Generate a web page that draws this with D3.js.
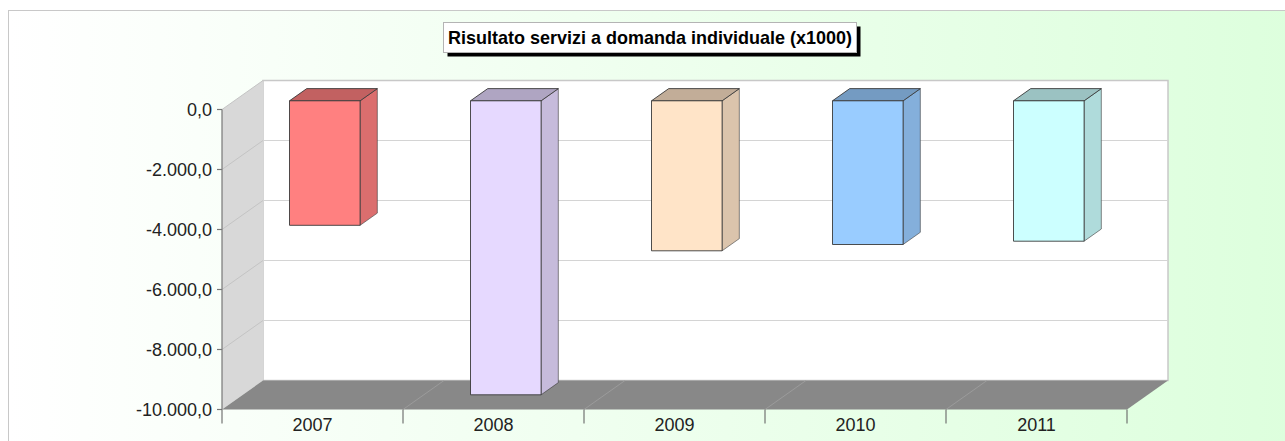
<!DOCTYPE html>
<html><head><meta charset="utf-8">
<script src="https://cdn.jsdelivr.net/npm/d3@7/dist/d3.min.js"></script>
<style>html,body{margin:0;padding:0;background:#fff;overflow:hidden}svg{display:block}</style>
</head><body>
<svg id="c" width="1285" height="441"></svg>
<script>
const title = "Risultato servizi a domanda individuale (x1000)";
const categories = ["2007", "2008", "2009", "2010", "2011"];
const values = [-4150, -9800, -5000, -4790, -4680];
const yTicks = [0, -2000, -4000, -6000, -8000, -10000];
const colors = ["#ff8080", "#e6d9ff", "#ffe4c8", "#99ccff", "#ccffff"];

const svg = d3.select("#c");
const W = 1285, H = 441;
const locale = d3.formatLocale({decimal: ",", thousands: ".", grouping: [3], currency: ["€", ""], minus: "-"});
const fmt = locale.format(",.1f");

const defs = svg.append("defs");
const grad = defs.append("linearGradient").attr("id", "bg").attr("x1", "0").attr("x2", "1").attr("y1", "0").attr("y2", "0");
grad.append("stop").attr("offset", "0").attr("stop-color", "#ffffff");
grad.append("stop").attr("offset", "1").attr("stop-color", "#ddffdd");

svg.append("rect").attr("x", 8.5).attr("y", 10.5).attr("width", W).attr("height", H)
  .attr("fill", "url(#bg)").attr("stroke", "#c8c8c8");

const x0 = 222, x1 = 1127;
const x = d3.scaleBand().domain(categories).range([x0, x1]);
const y = d3.scaleLinear().domain([-10000, 0]).range([409.5, 109.5]);
const DX = 41, DY = -29;
const yMin = y(-10000), yMax = y(0);

const g = svg.append("g");
g.append("rect").attr("x", x0 + DX).attr("y", yMax + DY).attr("width", x1 - x0).attr("height", yMin - yMax)
  .attr("fill", "#ffffff").attr("stroke", "#c8c8c8").attr("stroke-width", 1.5);
g.append("path").attr("d", `M${x0},${yMax}L${x0 + DX},${yMax + DY}L${x0 + DX},${yMin + DY}L${x0},${yMin}Z`)
  .attr("fill", "#d8d8d8");
yTicks.forEach(t => {
  if (t === 0 || t === -10000) return;
  g.append("line").attr("x1", x0 + DX).attr("x2", x1 + DX).attr("y1", y(t) + DY).attr("y2", y(t) + DY)
    .attr("stroke", "#d4d4d4");
  g.append("line").attr("x1", x0).attr("x2", x0 + DX).attr("y1", y(t)).attr("y2", y(t) + DY)
    .attr("stroke", "#c4c4c4");
});
g.append("line").attr("x1", x0).attr("x2", x0 + DX).attr("y1", yMax).attr("y2", yMax + DY).attr("stroke", "#c4c4c4");
g.append("path").attr("d", `M${x0},${yMin}L${x0 + DX},${yMin + DY}L${x1 + DX},${yMin + DY}L${x1},${yMin}Z`)
  .attr("fill", "#888888");
const bounds = categories.map(c => x(c)).concat([x1]);
bounds.slice(1, -1).forEach(b => {
  g.append("line").attr("x1", b).attr("x2", b + DX).attr("y1", yMin).attr("y2", yMin + DY)
    .attr("stroke", "#a0a0a0").attr("stroke-width", 0.8);
});

const z1 = 0.3, z2 = 0.72, bw = 0.39;
categories.forEach((c, i) => {
  const v = values[i];
  const cx = x(c) + x.bandwidth() / 2;
  const w = x.bandwidth() * bw;
  const fx = cx - w / 2 + DX * z1, fy0 = y(0) + DY * z1, fy1 = y(v) + DY * z1;
  const ddx = DX * (z2 - z1), ddy = DY * (z2 - z1);
  const base = d3.color(colors[i]);
  const top = d3.rgb(base.r * 0.76, base.g * 0.76, base.b * 0.76);
  const side = d3.rgb(base.r * 0.86, base.g * 0.86, base.b * 0.86);
  const bar = g.append("g").attr("stroke", "#3a3a3a").attr("stroke-width", 0.9).attr("stroke-linejoin", "round");
  bar.append("path").attr("d", `M${fx + w},${fy0}L${fx + w + ddx},${fy0 + ddy}L${fx + w + ddx},${fy1 + ddy}L${fx + w},${fy1}Z`)
    .attr("fill", side.formatHex()).attr("stroke-width", 0.6);
  bar.append("path").attr("d", `M${fx},${fy0}L${fx + ddx},${fy0 + ddy}L${fx + w + ddx},${fy0 + ddy}L${fx + w},${fy0}Z`)
    .attr("fill", top.formatHex());
  bar.append("rect").attr("x", fx).attr("y", fy0).attr("width", w).attr("height", fy1 - fy0)
    .attr("fill", colors[i]);
});

const ya = svg.append("g").attr("font-family", "Liberation Sans, Arial, sans-serif").attr("font-size", 18).attr("fill", "#222");
ya.append("line").attr("x1", x0).attr("x2", x0).attr("y1", yMax).attr("y2", yMin).attr("stroke", "#777").attr("stroke-width", 1.2);
yTicks.forEach(t => {
  ya.append("line").attr("x1", x0 - 5).attr("x2", x0).attr("y1", y(t)).attr("y2", y(t)).attr("stroke", "#777").attr("stroke-width", 1.2);
  ya.append("text").attr("x", x0 - 10).attr("y", y(t)).attr("dy", "0.36em").attr("text-anchor", "end").text(fmt(t));
});
const xa = svg.append("g").attr("font-family", "Liberation Sans, Arial, sans-serif").attr("font-size", 18).attr("fill", "#222");
bounds.forEach(b => {
  xa.append("line").attr("x1", b).attr("x2", b).attr("y1", yMin).attr("y2", yMin + 14).attr("stroke", "#666").attr("stroke-width", 1.1);
});
categories.forEach(c => {
  xa.append("text").attr("x", x(c) + x.bandwidth() / 2).attr("y", 431).attr("text-anchor", "middle").text(c);
});

const tg = svg.append("g");
tg.append("rect").attr("x", 447.5).attr("y", 26.5).attr("width", 413).attr("height", 30).attr("fill", "#000");
tg.append("rect").attr("x", 443.5).attr("y", 22.5).attr("width", 413).attr("height", 30).attr("fill", "#fff").attr("stroke", "#b4b4b4");
const tt = tg.append("text").attr("x", 650).attr("y", 44).attr("text-anchor", "middle")
  .attr("font-family", "Liberation Sans, Arial, sans-serif").attr("font-weight", "bold").attr("font-size", 100)
  .attr("fill", "#000").text(title);
const len = tt.node().getComputedTextLength();
tt.attr("font-size", 100 * 404 / len);
</script>
</body></html>
